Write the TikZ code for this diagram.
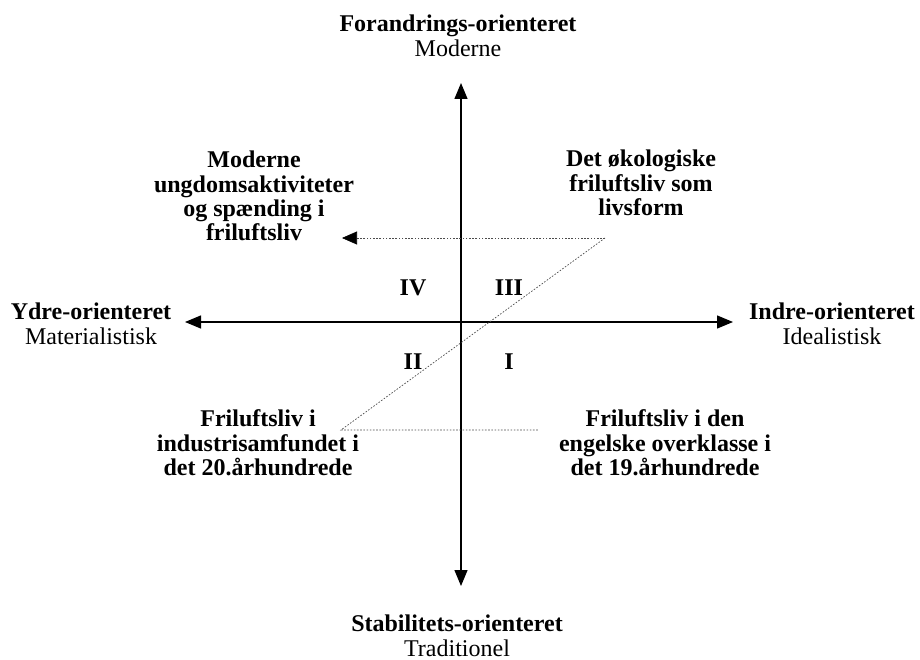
\documentclass[tikz,border=0pt]{standalone}
\usepackage{fontspec}
\setmainfont{Liberation Serif}
\usetikzlibrary{arrows.meta}

\begin{document}
\begin{tikzpicture}[
        x=1bp, y=-1bp,
        every node/.style={align=center, inner sep=0pt, font=\fontsize{24bp}{24.3bp}\selectfont},
        heading/.style={font=\fontsize{24bp}{24.5bp}\selectfont},
        quadrant/.style={font=\fontsize{24bp}{24.3bp}\selectfont\bfseries},
        axis/.style={line width=1.3bp, {Triangle[length=16bp,width=13bp]}-{Triangle[length=16bp,width=13bp]}},
        trace/.style={gray!60!black, line width=0.7bp, dash pattern=on 1.6bp off 1.6bp},
    ]
        \useasboundingbox (0,0) rectangle (920,660);

        \node[heading] (forandring) at (458,36) {\textbf{Forandrings-orienteret}\\Moderne};
        \node[heading] (stabilitet) at (457,636) {\textbf{Stabilitets-orienteret}\\Traditionel};
        \node[heading] (ydre) at (91,324) {\textbf{Ydre-orienteret}\\Materialistisk};
        \node[heading] (indre) at (832,324) {\textbf{Indre-orienteret}\\Idealistisk};

        \coordinate (top) at (461,83);
        \coordinate (bottom) at (461,586);
        \coordinate (left) at (185,322);
        \coordinate (right) at (733,322);
        \draw[axis] (bottom) -- (top);
        \draw[axis] (left) -- (right);

        \node[quadrant] (q4) at (413,288) {IV};
        \node[quadrant] (q3) at (509,288) {III};
        \node[quadrant] (q2) at (413,362) {II};
        \node[quadrant] (q1) at (509,362) {I};

        \node[quadrant] (moderne) at (254,196) {Moderne\\ungdomsaktiviteter\\og spænding i\\friluftsliv};
        \node[quadrant] (oekologisk) at (641,183) {Det økologiske\\friluftsliv som\\livsform};
        \node[quadrant] (industri) at (258,443) {Friluftsliv i\\industrisamfundet i\\det 20.århundrede};
        \node[quadrant] (overklasse) at (665,443) {Friluftsliv i den\\engelske overklasse i\\det 19.århundrede};

        \coordinate (t-right) at (605,238);
        \coordinate (t-left) at (342,238);
        \coordinate (b-left) at (341,430);
        \coordinate (b-right) at (539,430);
        \draw[trace, -{Triangle[length=15bp,width=13bp,black]}] (t-right) -- (t-left);
        \draw[trace] (t-right) -- (b-left) -- (b-right);
    \end{tikzpicture}
\end{document}
